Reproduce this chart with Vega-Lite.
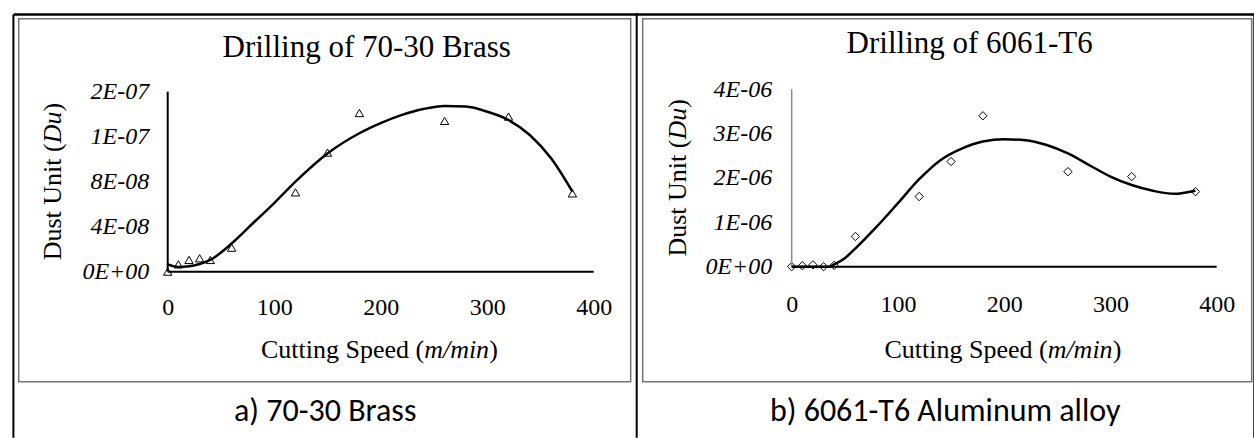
{
  "$schema": "https://vega.github.io/schema/vega-lite/v6.json",
  "padding": {"left": 10.7, "top": 11.65, "right": 0, "bottom": 0},
  "background": "white",
  "bounds": "flush",
  "spacing": 12,
  "config": {
    "view": {"stroke": "#737373", "strokeWidth": 1.5},
    "axis": {"domain": false, "ticks": false, "tickSize": 0, "grid": false, "labelPadding": 0, "labelFont": "Liberation Serif", "labelFontSize": 24, "labelColor": "black", "labelFlush": false, "labelOverlap": false},
    "title": {"font": "Liberation Serif", "fontSize": 31, "fontWeight": "normal", "color": "black", "baseline": "alphabetic"},
    "text": {"font": "Liberation Serif", "fontSize": 26, "color": "black"}
  },
  "datasets": {
    "brass_points": [
      {"speed": 0, "du": 0},
      {"speed": 10, "du": 6.5e-9},
      {"speed": 20, "du": 1.04e-8},
      {"speed": 30, "du": 1.19e-8},
      {"speed": 40, "du": 1.04e-8},
      {"speed": 60, "du": 2.13e-8},
      {"speed": 120, "du": 7.05e-8},
      {"speed": 150, "du": 1.058e-7},
      {"speed": 180, "du": 1.41e-7},
      {"speed": 260, "du": 1.34e-7},
      {"speed": 320, "du": 1.378e-7},
      {"speed": 380, "du": 6.96e-8}
    ],
    "brass_trend": [
      {"speed": 0, "du": 6.5e-9},
      {"speed": 10, "du": 4.2e-9},
      {"speed": 20, "du": 4.7e-9},
      {"speed": 30, "du": 6.8e-9},
      {"speed": 40, "du": 1.04e-8},
      {"speed": 60, "du": 2.5e-8},
      {"speed": 80, "du": 4.3e-8},
      {"speed": 100, "du": 6.1e-8},
      {"speed": 120, "du": 8.0e-8},
      {"speed": 150, "du": 1.05e-7},
      {"speed": 180, "du": 1.23e-7},
      {"speed": 200, "du": 1.32e-7},
      {"speed": 220, "du": 1.393e-7},
      {"speed": 240, "du": 1.446e-7},
      {"speed": 260, "du": 1.473e-7},
      {"speed": 280, "du": 1.467e-7},
      {"speed": 300, "du": 1.422e-7},
      {"speed": 320, "du": 1.348e-7},
      {"speed": 340, "du": 1.215e-7},
      {"speed": 360, "du": 1.007e-7},
      {"speed": 380, "du": 7.11e-8}
    ],
    "al_points": [
      {"speed": 0, "du": 0},
      {"speed": 10, "du": 2e-8},
      {"speed": 20, "du": 4e-8},
      {"speed": 30, "du": 0},
      {"speed": 40, "du": 3e-8},
      {"speed": 60, "du": 6.8e-7},
      {"speed": 120, "du": 1.58e-6},
      {"speed": 150, "du": 2.37e-6},
      {"speed": 180, "du": 3.4e-6},
      {"speed": 260, "du": 2.14e-6},
      {"speed": 320, "du": 2.03e-6},
      {"speed": 380, "du": 1.69e-6}
    ],
    "al_trend": [
      {"speed": 0, "du": 0},
      {"speed": 20, "du": 0},
      {"speed": 35, "du": 0},
      {"speed": 40, "du": 5e-8},
      {"speed": 50, "du": 1.9e-7},
      {"speed": 60, "du": 4.1e-7},
      {"speed": 80, "du": 9.0e-7},
      {"speed": 100, "du": 1.43e-6},
      {"speed": 120, "du": 1.97e-6},
      {"speed": 140, "du": 2.4e-6},
      {"speed": 160, "du": 2.66e-6},
      {"speed": 180, "du": 2.82e-6},
      {"speed": 200, "du": 2.87e-6},
      {"speed": 220, "du": 2.85e-6},
      {"speed": 240, "du": 2.74e-6},
      {"speed": 260, "du": 2.55e-6},
      {"speed": 280, "du": 2.29e-6},
      {"speed": 300, "du": 2.03e-6},
      {"speed": 320, "du": 1.84e-6},
      {"speed": 340, "du": 1.71e-6},
      {"speed": 360, "du": 1.64e-6},
      {"speed": 380, "du": 1.71e-6}
    ]
  },
  "hconcat": [
    {
      "width": 612,
      "height": 363,
      "title": {"text": "Drilling of 70-30 Brass", "offset": -51, "dx": 42},
      "layer": [
        {
          "data": {"name": "brass_points"},
          "mark": {"type": "point", "shape": "triangle-up", "filled": false, "stroke": "black", "strokeWidth": 1, "size": 70, "opacity": 1},
          "encoding": {
            "x": {"field": "speed", "type": "quantitative", "scale": {"domain": [-139.906, 434.742], "nice": false, "zero": false},
                  "axis": {"title": null, "values": [0, 100, 200, 300, 400], "offset": -74, "labelBaseline": "middle", "labelAlign": "center"}},
            "y": {"field": "du", "type": "quantitative", "scale": {"domain": [-9.7778e-8, 2.24889e-7], "nice": false, "zero": false},
                  "axis": {"title": null, "values": [0, 4e-8, 8e-8, 1.2e-7, 1.6e-7], "offset": -130, "labelAlign": "right", "labelBaseline": "middle", "labelFontStyle": "italic",
                           "labelExpr": "datum.value < 2e-8 ? '0E+00' : datum.value < 6e-8 ? '4E-08' : datum.value < 1e-7 ? '8E-08' : datum.value < 1.4e-7 ? '1E-07' : '2E-07'"}}
          }
        },
        {
          "data": {"values": [{}]},
          "mark": {"type": "rule", "color": "black", "strokeWidth": 2},
          "encoding": {"x": {"datum": 0}, "x2": {"datum": 400}, "y": {"datum": 0}}
        },
        {
          "data": {"values": [{}]},
          "mark": {"type": "rule", "color": "black", "strokeWidth": 2},
          "encoding": {"x": {"datum": 0}, "y": {"datum": 0}, "y2": {"datum": 1.6e-7}}
        },
        {
          "data": {"name": "brass_trend"},
          "mark": {"type": "line", "color": "black", "strokeWidth": 2.5, "interpolate": "monotone"},
          "encoding": {"x": {"field": "speed", "type": "quantitative"}, "y": {"field": "du", "type": "quantitative"}}
        },
        {
          "data": {"values": [{}]},
          "mark": {"type": "text", "align": "right", "baseline": "alphabetic", "dx": 43.45, "text": "Cutting Speed ("},
          "encoding": {"x": {"datum": 200}, "y": {"datum": -7.6444e-8}}
        },
        {
          "data": {"values": [{}]},
          "mark": {"type": "text", "align": "left", "baseline": "alphabetic", "dx": 43.45, "fontStyle": "italic", "text": "m/min"},
          "encoding": {"x": {"datum": 200}, "y": {"datum": -7.6444e-8}}
        },
        {
          "data": {"values": [{}]},
          "mark": {"type": "text", "align": "left", "baseline": "alphabetic", "dx": 108.45, "text": ")"},
          "encoding": {"x": {"datum": 200}, "y": {"datum": -7.6444e-8}}
        },
        {
          "data": {"values": [{}]},
          "mark": {"type": "text", "align": "right", "baseline": "middle", "angle": 270, "dx": 38.3, "text": "Dust Unit ("},
          "encoding": {"x": {"datum": -108.0}, "y": {"datum": 8.0e-8}}
        },
        {
          "data": {"values": [{}]},
          "mark": {"type": "text", "align": "left", "baseline": "middle", "angle": 270, "dx": 38.3, "fontStyle": "italic", "text": "Du"},
          "encoding": {"x": {"datum": -108.0}, "y": {"datum": 8.0e-8}}
        },
        {
          "data": {"values": [{}]},
          "mark": {"type": "text", "align": "left", "baseline": "middle", "angle": 270, "dx": 70.1, "text": ")"},
          "encoding": {"x": {"datum": -108.0}, "y": {"datum": 8.0e-8}}
        },
        {
          "data": {"values": [{}]},
          "mark": {"type": "text", "align": "center", "baseline": "alphabetic", "font": "Carlito, Lato, sans-serif", "fontSize": 32, "text": "a) 70-30 Brass"},
          "encoding": {"x": {"datum": 147.9}, "y": {"datum": -1.32444e-7}}
        },
        {
          "data": {"values": [{}]},
          "mark": {"type": "rule", "color": "black", "strokeWidth": 2.5, "strokeCap": "butt"},
          "encoding": {"x": {"datum": -144.648}, "x2": {"datum": 441.315}, "y": {"datum": 2.28533e-7}}
        },
        {
          "data": {"values": [{}]},
          "mark": {"type": "rule", "color": "black", "strokeWidth": 2, "strokeCap": "butt"},
          "encoding": {"x": {"datum": -144.883}, "y": {"datum": 2.28533e-7}, "y2": {"datum": -1.47556e-7}}
        },
        {
          "data": {"values": [{}]},
          "mark": {"type": "rule", "color": "black", "strokeWidth": 2, "strokeCap": "butt"},
          "encoding": {"x": {"datum": 440.376}, "y": {"datum": 2.28533e-7}, "y2": {"datum": -1.47556e-7}}
        }
      ]
    },
    {
      "width": 609,
      "height": 363,
      "title": {"text": "Drilling of 6061-T6", "offset": -47, "dx": 22.5},
      "layer": [
        {
          "data": {"name": "al_points"},
          "mark": {"type": "point", "shape": "diamond", "filled": false, "stroke": "black", "strokeWidth": 1, "size": 70, "opacity": 1},
          "encoding": {
            "x": {"field": "speed", "type": "quantitative", "scale": {"domain": [-140.235, 432.941], "nice": false, "zero": false},
                  "axis": {"title": null, "values": [0, 100, 200, 300, 400], "offset": -77.5, "labelBaseline": "middle", "labelAlign": "center"}},
            "y": {"field": "du", "type": "quantitative", "scale": {"domain": [-2.59155e-6, 5.58873e-6], "nice": false, "zero": false},
                  "axis": {"title": null, "values": [0, 1e-6, 2e-6, 3e-6, 4e-6], "offset": -129, "labelAlign": "right", "labelBaseline": "middle", "labelFontStyle": "italic",
                           "labelExpr": "datum.value < 5e-7 ? '0E+00' : datum.value < 1.5e-6 ? '1E-06' : datum.value < 2.5e-6 ? '2E-06' : datum.value < 3.5e-6 ? '3E-06' : '4E-06'"}}
          }
        },
        {
          "data": {"values": [{}]},
          "mark": {"type": "rule", "color": "black", "strokeWidth": 2},
          "encoding": {"x": {"datum": 0}, "x2": {"datum": 400}, "y": {"datum": 0}}
        },
        {
          "data": {"values": [{}]},
          "mark": {"type": "rule", "color": "#8c8c8c", "strokeWidth": 1.5},
          "encoding": {"x": {"datum": 0}, "y": {"datum": 0}, "y2": {"datum": 4e-6}}
        },
        {
          "data": {"name": "al_trend"},
          "mark": {"type": "line", "color": "black", "strokeWidth": 2.5, "interpolate": "monotone"},
          "encoding": {"x": {"field": "speed", "type": "quantitative"}, "y": {"field": "du", "type": "quantitative"}}
        },
        {
          "data": {"values": [{}]},
          "mark": {"type": "text", "align": "right", "baseline": "alphabetic", "dx": 43.45, "text": "Cutting Speed ("},
          "encoding": {"x": {"datum": 200}, "y": {"datum": -2.0507e-6}}
        },
        {
          "data": {"values": [{}]},
          "mark": {"type": "text", "align": "left", "baseline": "alphabetic", "dx": 43.45, "fontStyle": "italic", "text": "m/min"},
          "encoding": {"x": {"datum": 200}, "y": {"datum": -2.0507e-6}}
        },
        {
          "data": {"values": [{}]},
          "mark": {"type": "text", "align": "left", "baseline": "alphabetic", "dx": 108.45, "text": ")"},
          "encoding": {"x": {"datum": 200}, "y": {"datum": -2.0507e-6}}
        },
        {
          "data": {"values": [{}]},
          "mark": {"type": "text", "align": "right", "baseline": "middle", "angle": 270, "dx": 38.3, "text": "Dust Unit ("},
          "encoding": {"x": {"datum": -107.3}, "y": {"datum": 2.0e-6}}
        },
        {
          "data": {"values": [{}]},
          "mark": {"type": "text", "align": "left", "baseline": "middle", "angle": 270, "dx": 38.3, "fontStyle": "italic", "text": "Du"},
          "encoding": {"x": {"datum": -107.3}, "y": {"datum": 2.0e-6}}
        },
        {
          "data": {"values": [{}]},
          "mark": {"type": "text", "align": "left", "baseline": "middle", "angle": 270, "dx": 70.1, "text": ")"},
          "encoding": {"x": {"datum": -107.3}, "y": {"datum": 2.0e-6}}
        },
        {
          "data": {"values": [{}]},
          "mark": {"type": "text", "align": "center", "baseline": "alphabetic", "font": "Carlito, Lato, sans-serif", "fontSize": 32, "text": "b) 6061-T6 Aluminum alloy"},
          "encoding": {"x": {"datum": 144.5}, "y": {"datum": -3.47042e-6}}
        },
        {
          "data": {"values": [{}]},
          "mark": {"type": "rule", "color": "black", "strokeWidth": 2.5, "strokeCap": "butt"},
          "encoding": {"x": {"datum": -146.824}, "x2": {"datum": 435.388}, "y": {"datum": 5.6811e-6}}
        },
        {
          "data": {"values": [{}]},
          "mark": {"type": "rule", "color": "black", "strokeWidth": 2, "strokeCap": "butt"},
          "encoding": {"x": {"datum": 435.388}, "y": {"datum": 5.6811e-6}, "y2": {"datum": -3.85352e-6}}
        }
      ]
    }
  ]
}
